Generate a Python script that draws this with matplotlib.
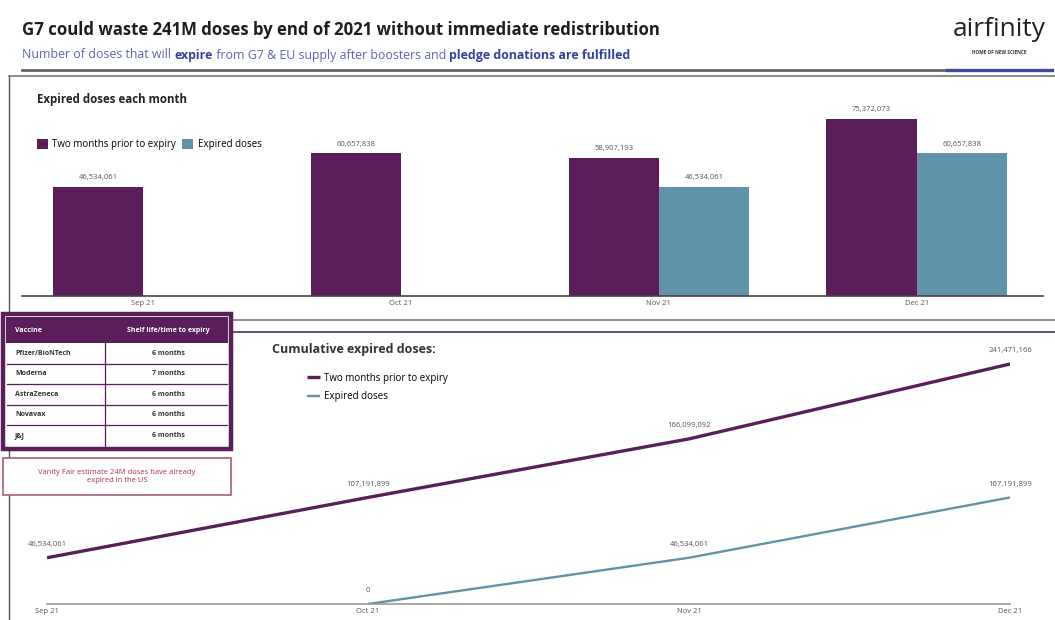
import matplotlib.pyplot as plt
from matplotlib.patches import Rectangle

plt.rcParams['font.family'] = ['Open Sans', 'DejaVu Sans']

months = ['Sep 21', 'Oct 21', 'Nov 21', 'Dec 21']
prior_to_expiry = [46534061, 60657838, 58907193, 75372073]
expired = [0, 0, 46534061, 60657838]
cum_prior = [46534061, 107191899, 166099092, 241471166]
cum_expired = [None, 0, 46534061, 107191899]

vaccines = ['Pfizer/BioNTech', 'Moderna', 'AstraZeneca', 'Novavax', 'J&J']
shelf_life = ['6 months', '7 months', '6 months', '6 months', '6 months']

PURPLE = '#5a1e5b'
BLUE = '#6092a9'
W, H = 1055, 620

fig = plt.figure(figsize=(W / 100, H / 100), dpi=100)


def px_axes(left, top, width, height):
    return fig.add_axes([left / W, 1 - (top + height) / H, width / W, height / H])


# monthly bars
ax1 = px_axes(22, 100, 1021, 196)
ax1.set_facecolor('none')
x = list(range(len(months)))
bw = 0.35
b1 = ax1.bar([i - bw / 2 for i in x], prior_to_expiry, bw, color=PURPLE,
             label='Two months prior to expiry')
b2 = ax1.bar([i + bw / 2 for i in x], expired, bw, color=BLUE, label='Expired doses')
for bars, vals in ((b1, prior_to_expiry), (b2, expired)):
    for rect, v in zip(bars, vals):
        if v:
            ax1.annotate(f'{v:,}', (rect.get_x() + rect.get_width() / 2, v),
                         xytext=(0, 4), textcoords='offset points', ha='center',
                         va='bottom', fontsize=5.5, color='#555555')
ax1.set_xlim(-0.47, 3.49)
ax1.set_ylim(0, 83.4e6)
ax1.set_xticks(x, months, fontsize=5.5, color='#555555')
ax1.tick_params(length=0, pad=3)
ax1.set_yticks([])
for s in ('top', 'right', 'left'):
    ax1.spines[s].set_visible(False)
ax1.spines['bottom'].set_color('#444444')
ax1.spines['bottom'].set_linewidth(1.2)
ax1.legend(ncol=2, loc='upper left', bbox_to_anchor=(32 / W, 1 - 134 / H),
           bbox_transform=fig.transFigure, frameon=False, fontsize=7,
           handlelength=1.1, handleheight=1.3, handletextpad=0.5,
           columnspacing=0.6, borderpad=0)

# cumulative lines
ax2 = px_axes(47, 340, 963, 264)
ax2.set_facecolor('none')
ax2.plot(x, cum_prior, color=PURPLE, lw=2.4, label='Two months prior to expiry',
         solid_capstyle='butt')
ax2.plot(x[1:], cum_expired[1:], color=BLUE, lw=1.7, label='Expired doses',
         solid_capstyle='butt')
for xs, vals in ((x, cum_prior), (x[1:], cum_expired[1:])):
    for xi, v in zip(xs, vals):
        ax2.annotate(f'{v:,}', (xi, v), xytext=(0, 7), textcoords='offset points',
                     ha='center', va='bottom', fontsize=5.5, color='#555555',
                     bbox=dict(facecolor='white', edgecolor='none', pad=0.5))
ax2.set_xlim(0, 3)
ax2.set_ylim(0, 265.6e6)
ax2.set_xticks(x, months, fontsize=5.5, color='#555555')
ax2.tick_params(length=0, pad=3)
ax2.set_yticks([])
for s in ('top', 'right', 'left'):
    ax2.spines[s].set_visible(False)
ax2.spines['bottom'].set_color('#999999')
ax2.spines['bottom'].set_linewidth(1.2)
ax2.legend(loc='upper left', bbox_to_anchor=(302 / W, 1 - 368 / H),
           bbox_transform=fig.transFigure, frameon=False, fontsize=7,
           handlelength=1.4, handletextpad=0.4, labelspacing=0.75, borderpad=0)

# header, frames, table and note
ov = fig.add_axes([0, 0, 1, 1], zorder=5)
ov.set_xlim(0, W)
ov.set_ylim(H, 0)
ov.axis('off')
ov.patch.set_visible(False)

ov.text(22, 30, 'G7 could waste 241M doses by end of 2021 without immediate redistribution',
        fontsize=12.1, fontweight='bold', color='#1e1e1e', va='center')

renderer = fig.canvas.get_renderer()
sub_parts = [('Number of doses that will ', 'normal', '#5b66b5'),
             ('expire', 'bold', '#34419c'),
             (' from G7 & EU supply after boosters and ', 'normal', '#5b66b5'),
             ('pledge donations are fulfilled', 'bold', '#34419c')]
xpos = 22
for txt, wt, col in sub_parts:
    t = ov.text(xpos, 55, txt, fontsize=8.9, fontweight=wt, color=col, va='center')
    bb = t.get_window_extent(renderer)
    xpos += bb.width

ov.plot([22, 947], [70, 70], color='#666666', lw=2)
ov.plot([947, 1052], [70, 70], color='#3d4aa6', lw=2.4)
ov.text(999, 29, 'airfinity', fontsize=19, color='#222222', ha='center', va='center')
ov.text(999, 52, 'HOME OF NEW SCIENCE', fontsize=3.4, fontweight='bold',
        color='#333333', ha='center', va='center')

# panel frames
ov.plot([9, 9], [76, 620], color='#555555', lw=1, zorder=1)
ov.plot([9, 1055], [76, 76], color='#777777', lw=1.2, zorder=1)
ov.plot([9, 1055], [320, 320], color='#777777', lw=1.2, zorder=1)
ov.plot([9, 1055], [332, 332], color='#555577', lw=1.4, zorder=1)

ov.text(37, 100, 'Expired doses each month', fontsize=8.3, fontweight='bold',
        color='#222222', va='center')
ov.text(272, 350, 'Cumulative expired doses:', fontsize=9, fontweight='bold',
        color='#333333', va='center')

# shelf life table
tx0, tx1, tsplit = 3, 231, 105
ty0, head_h, row_h = 314, 26, 20.5
table_h = 3 + head_h + row_h * len(vaccines) + 3
ov.add_patch(Rectangle((tx0, ty0), tx1 - tx0, table_h, facecolor='white',
                       edgecolor=PURPLE, lw=3.2, zorder=3))
ov.add_patch(Rectangle((tx0 + 3, ty0 + 3), tx1 - tx0 - 6, head_h, facecolor=PURPLE,
                       edgecolor='none', zorder=3.5))
ov.text(15, ty0 + 3 + head_h / 2, 'Vaccine', fontsize=5, fontweight='bold',
        color='white', va='center', zorder=4)
ov.text((tsplit + tx1) / 2, ty0 + 3 + head_h / 2, 'Shelf life/time to expiry',
        fontsize=5, fontweight='bold', color='white', va='center', ha='center', zorder=4)
row_top = ty0 + 3 + head_h
for i, (vac, life) in enumerate(zip(vaccines, shelf_life)):
    yc = row_top + row_h * (i + 0.5)
    ov.text(15, yc, vac, fontsize=5, fontweight='bold', color='#333333', va='center',
            zorder=4)
    ov.text((tsplit + tx1) / 2, yc, life, fontsize=5, fontweight='bold',
            color='#333333', va='center', ha='center', zorder=4)
    if i < len(vaccines) - 1:
        ov.plot([tx0 + 4, tx1 - 4], [yc + row_h / 2, yc + row_h / 2], color=PURPLE,
                lw=0.9, zorder=4)
ov.plot([tsplit, tsplit], [row_top, row_top + row_h * len(vaccines)], color=PURPLE,
        lw=0.9, zorder=4)

ov.add_patch(Rectangle((3, 458), 228, 37, facecolor='white', edgecolor='#a8606e',
                       lw=1.2, zorder=3))
ov.text(117, 476.5, 'Vanity Fair estimate 24M doses have already\nexpired in the US',
        fontsize=5.5, color='#b0304a', ha='center', va='center', linespacing=1.4,
        zorder=4)

fig.savefig('out.png', dpi=100)
